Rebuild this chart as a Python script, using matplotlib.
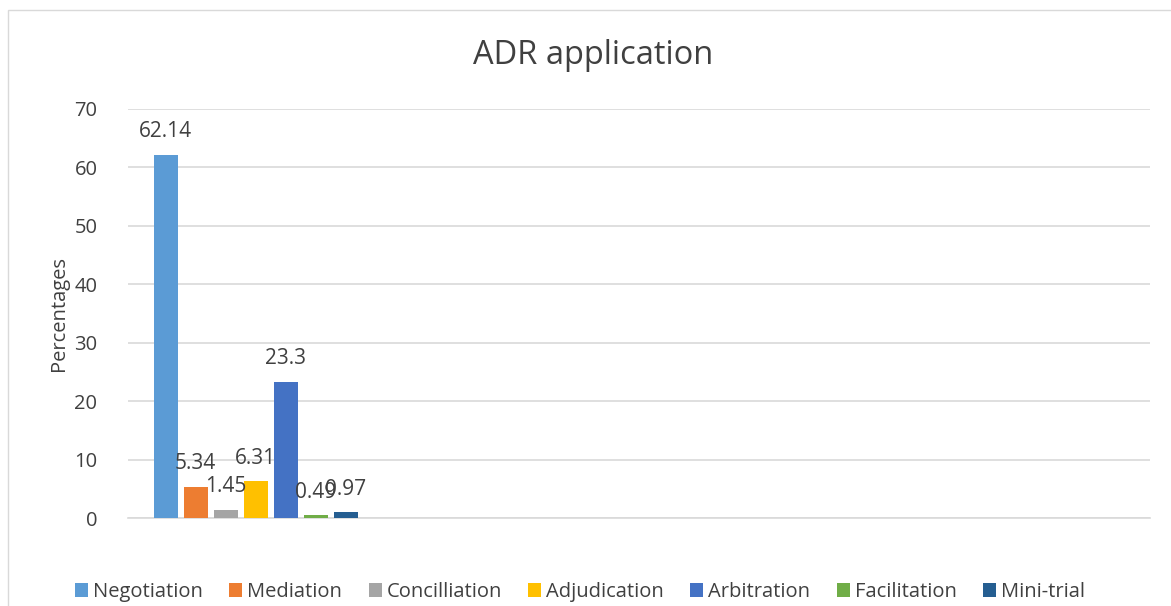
#!/usr/bin/env python3
"""Grouped bar chart of ADR application percentages"""
import matplotlib
matplotlib.use("Agg")
import matplotlib.pyplot as plt
from matplotlib.patches import Rectangle

methods = ["Negotiation", "Mediation", "Concilliation", "Adjudication",
           "Arbitration", "Facilitation", "Mini-trial"]
values = [62.14, 5.34, 1.45, 6.31, 23.3, 0.49, 0.97]
labels = ["62.14", "5.34", "1.45", "6.31", "23.3", "0.49", "0.97"]
colors = ["#5B9BD5", "#ED7D31", "#A5A5A5", "#FFC000",
          "#4472C4", "#70AD47", "#255E91"]
n_categories = 4
yticks = [0, 10, 20, 30, 40, 50, 60, 70]

plt.rcParams["font.family"] = ["Open Sans", "DejaVu Sans"]
text_color = "#404040"

W, H = 1171, 606
fig = plt.figure(figsize=(W / 100, H / 100), dpi=100)

# outer chart frame (partly cut off on the right and bottom)
fig.patches.append(Rectangle((8 / W, -0.1), 1.2, 1 - 10 / H + 0.1,
                             transform=fig.transFigure, fill=False,
                             edgecolor="#d9d9d9", linewidth=1))

ax = fig.add_axes([128 / W, (H - 518) / H, (1150 - 128) / W, (518 - 109) / H])

step = 30 / 255.5
width = 24 / 255.5
for i, (name, val, lab, col) in enumerate(zip(methods, values, labels, colors)):
    x = 0.5 + (i - 3) * step
    ax.bar(x, val, width=width, color=col, label=name, zorder=3)
    ax.annotate(lab, (x, val), xytext=(0, 9), textcoords="offset points",
                ha="center", va="bottom", fontsize=15, color=text_color,
                zorder=4)

ax.set_xlim(0, n_categories)
ax.set_ylim(0, 70)
ax.set_yticks(yticks)
ax.set_xticks([])
ax.grid(axis="y", color="#d9d9d9", linewidth=1.2, zorder=0)
for s in ["top", "right", "left"]:
    ax.spines[s].set_visible(False)
ax.spines["bottom"].set_color("#d9d9d9")
ax.spines["bottom"].set_linewidth(1.2)
ax.tick_params(axis="y", length=0, pad=22, labelsize=14.5, labelcolor=text_color)
ax.set_ylabel("Percentages", fontsize=14.5, color=text_color, labelpad=4)

fig.text(593 / W, 1 - 55 / H, "ADR application", ha="center", va="center",
         fontsize=23.5, color=text_color)

fig.legend(loc="center", bbox_to_anchor=(580 / W, 1 - 592 / H), ncol=7,
           frameon=False, fontsize=14.5, handlelength=0.65, handleheight=0.65,
           handletextpad=0.25, columnspacing=1.3, labelcolor=text_color)

fig.savefig("out.png", dpi=100)
